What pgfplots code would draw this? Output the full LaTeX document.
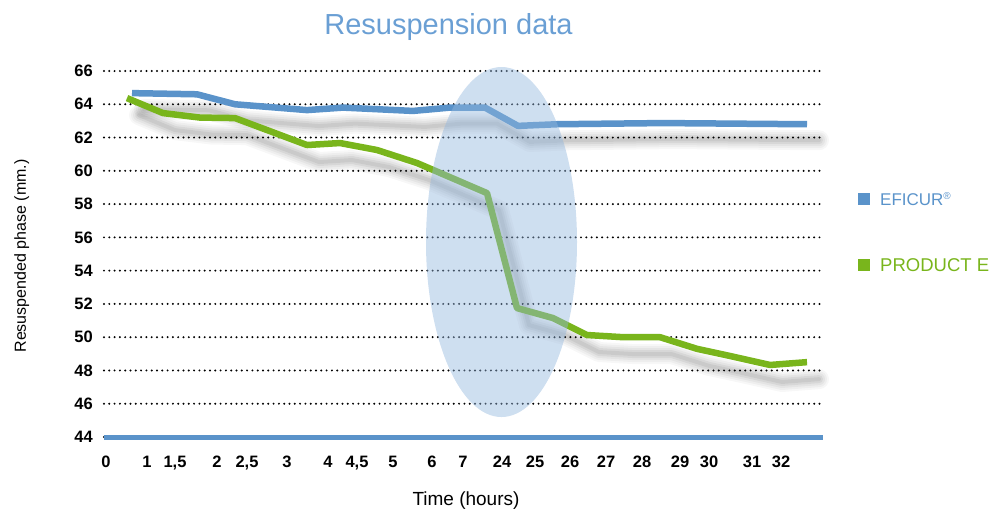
\documentclass[border=0pt]{standalone}
\usepackage{pgfplots}
\pgfplotsset{compat=1.18}
\usepackage{pgfplotstable}
\usepackage{fontspec}
\setmainfont{Liberation Sans}
\definecolor{eblue}{HTML}{5A93CA}
\definecolor{egreen}{HTML}{79B51C}
\definecolor{tblue}{HTML}{6A9FD4}
\definecolor{ell}{HTML}{93B7DD}

% x positions are on the chart's own (non-uniform) time scale, 0..719
\pgfplotstableread{
x y
28 64.67
93 64.60
131 64.00
203 63.65
239 63.80
309 63.60
346 63.80
381 63.80
414 62.70
453 62.80
559 62.87
703 62.80
}\eficur
\pgfplotstableread{
x y
23 64.37
59 63.47
96 63.20
131 63.17
203 61.55
236 61.67
273 61.25
313 60.47
383 58.66
413 51.75
449 51.15
483 50.13
519 50.00
556 50.00
593 49.30
626 48.87
666 48.33
703 48.50
}\producte

\pgfplotsset{
  shad/.style={black, line join=round, line cap=round, forget plot},
  bshift/.style={transform canvas={xshift=12pt,yshift=-16pt}},
  gshift/.style={transform canvas={xshift=12pt,yshift=-17pt}},
}

\begin{document}
\begin{tikzpicture}
\path[use as bounding box] (-104pt,-78pt) rectangle (891pt,437pt);
\begin{axis}[
  scale only axis, width=719pt, height=366pt,
  xmin=0, xmax=719, ymin=44, ymax=66,
  clip=false,
  axis line style={draw=none},
  major tick length=0pt,
  xtick={2,43,71,113,143,183,224,253,289,328,359,398,431,466,502,538,576,605,648,677},
  xticklabels={0,1,{1,5},2,{2,5},3,4,{4,5},5,6,7,24,25,26,27,28,29,30,31,32},
  ytick={44,46,48,50,52,54,56,58,60,62,64,66},
  yticklabels={44,46,48,50,52,54,56,58,60,62,64,66},
  xticklabel style={anchor=base, yshift=-30pt, inner sep=0pt, font=\bfseries\fontsize{16.5}{16.5}\selectfont},
  yticklabel style={anchor=east, xshift=-11pt, inner sep=0pt, font=\bfseries\fontsize{16.5}{16.5}\selectfont},
  ymajorgrids,
  grid style={black, line width=2.2pt, line cap=round, dash pattern=on 0pt off 5.3pt},
]
% soft shadows (layered strokes)
\addplot[shad, bshift, opacity=0.03, line width=20pt] table[x=x,y=y] {\eficur};
\addplot[shad, bshift, opacity=0.035, line width=16pt] table[x=x,y=y] {\eficur};
\addplot[shad, bshift, opacity=0.045, line width=12pt] table[x=x,y=y] {\eficur};
\addplot[shad, bshift, opacity=0.055, line width=8pt] table[x=x,y=y] {\eficur};
\addplot[shad, bshift, opacity=0.06, line width=4pt] table[x=x,y=y] {\eficur};
\addplot[shad, gshift, opacity=0.03, line width=20pt] table[x=x,y=y] {\producte};
\addplot[shad, gshift, opacity=0.035, line width=16pt] table[x=x,y=y] {\producte};
\addplot[shad, gshift, opacity=0.045, line width=12pt] table[x=x,y=y] {\producte};
\addplot[shad, gshift, opacity=0.055, line width=8pt] table[x=x,y=y] {\producte};
\addplot[shad, gshift, opacity=0.06, line width=4pt] table[x=x,y=y] {\producte};
\addplot[eblue, line width=6.5pt, line join=round] table[x=x,y=y] {\eficur};
\addplot[egreen, line width=6.5pt, line join=round] table[x=x,y=y] {\producte};
\fill[ell, opacity=0.45] (axis cs:397.5,55.72) ellipse [x radius=75.5pt, y radius=175pt];
\draw[eblue, line width=5pt] (axis cs:0,44) -- (axis cs:719,44);
\end{axis}
\node[anchor=base, inner sep=0pt, text=tblue, font=\fontsize{29}{29}\selectfont] at (344.5pt,402pt) {Resuspension data};
\node[rotate=90, anchor=base, inner sep=0pt, font=\fontsize{16}{16}\selectfont] at (-78pt,181pt) {Resuspended phase (mm.)};
\node[anchor=base, inner sep=0pt, font=\fontsize{19}{19}\selectfont] at (362pt,-68pt) {Time (hours)};
\fill[eblue] (754pt,232pt) rectangle ++(12pt,12pt);
\fill[egreen] (754pt,166pt) rectangle ++(12pt,12pt);
\node[anchor=base west, inner sep=0pt, text=eblue, font=\fontsize{17}{17}\selectfont] at (776pt,232pt) {EFICUR\raisebox{6pt}{\fontsize{10}{10}\selectfont ®}};
\node[anchor=base west, inner sep=0pt, text=egreen, font=\fontsize{18.5}{18.5}\selectfont] at (776pt,166pt) {PRODUCT E};
\end{tikzpicture}
\end{document}
